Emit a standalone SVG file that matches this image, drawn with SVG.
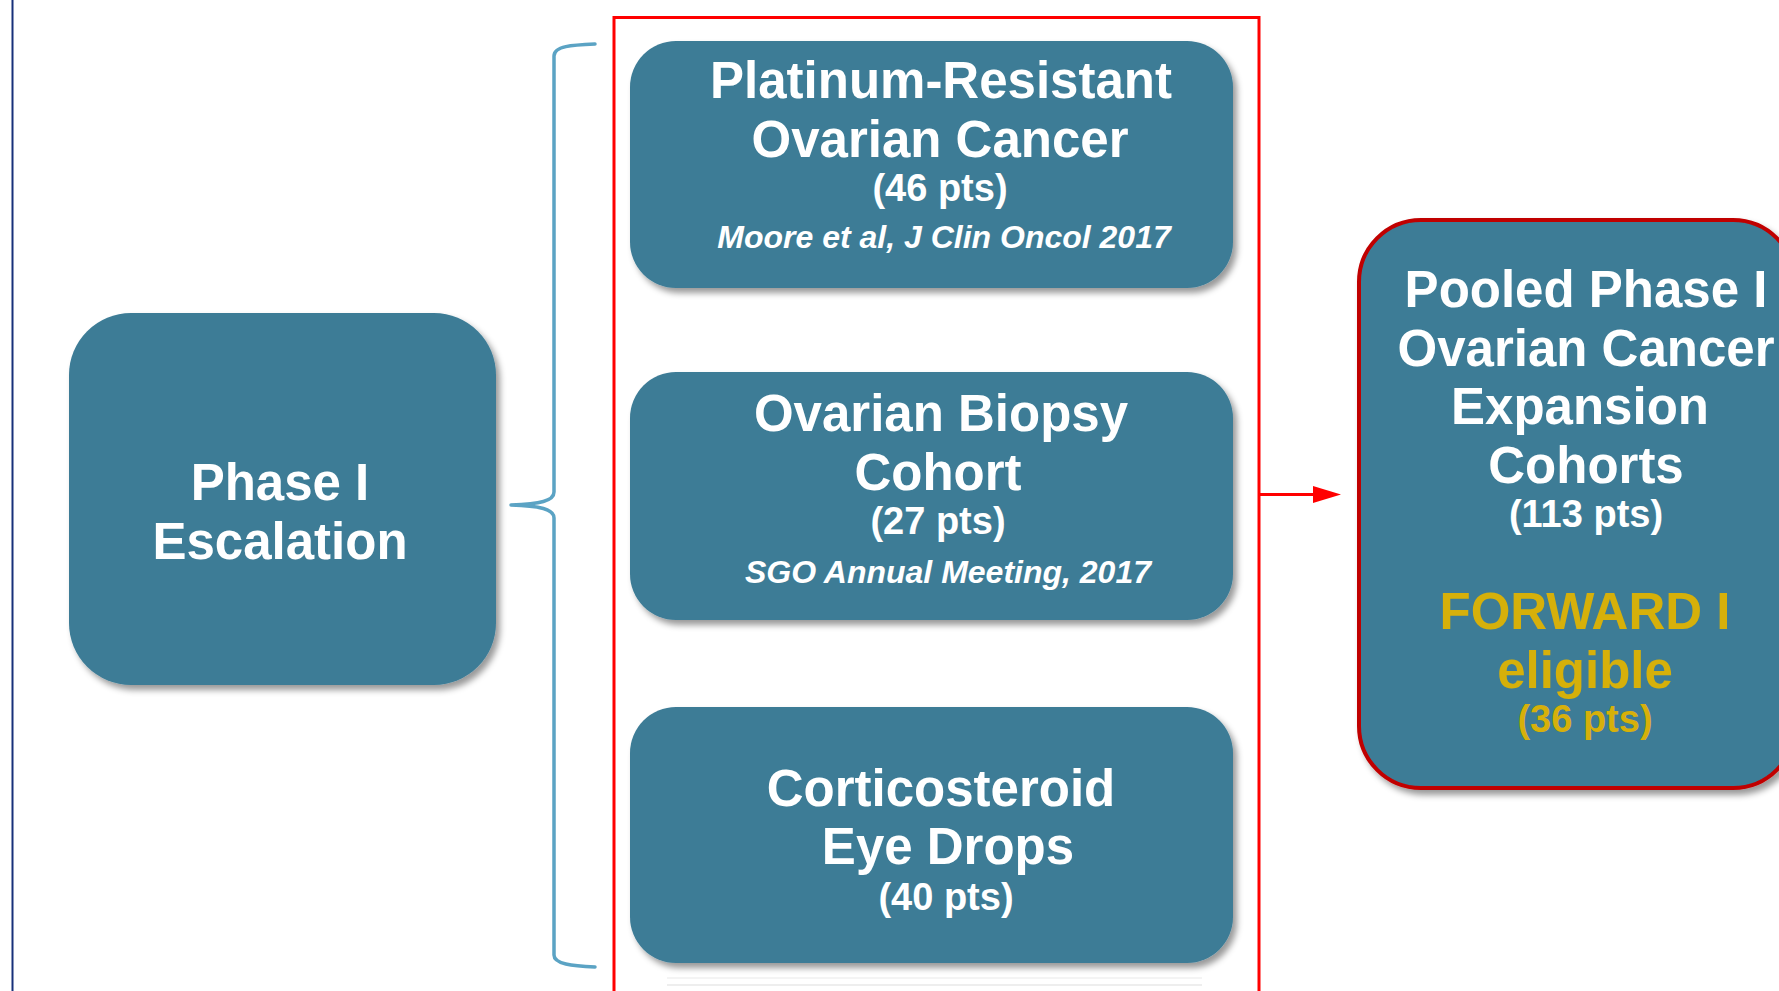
<svg xmlns="http://www.w3.org/2000/svg" width="1779" height="991" viewBox="0 0 1779 991">
  <defs>
    <style>
      .box { fill: #3d7c96; }
      .t { font-family: "Liberation Sans", Arial, sans-serif; font-weight: bold; fill: #ffffff; text-anchor: middle; }
      .big { font-size: 51px; }
      .pts { font-size: 38px; }
      .ref { font-size: 32px; font-style: italic; }
      .gold { fill: #d6b00a; }
      .frame { fill: none; stroke: #ff0000; stroke-width: 3; }
      .brace { fill: none; stroke: #5ba3c4; stroke-width: 3.5; stroke-linecap: round; stroke-linejoin: round; }
      .arrowline { fill: none; stroke: #ff0000; stroke-width: 3; }
    </style>
    <filter id="shadow" x="-10%" y="-10%" width="125%" height="125%">
      <feDropShadow dx="4" dy="5" stdDeviation="3" flood-color="#000000" flood-opacity="0.4"/>
    </filter>
  </defs>

  <rect x="0" y="0" width="1779" height="991" fill="#ffffff"/>
  <line x1="12.5" y1="0" x2="12.5" y2="991" stroke="#17307a" stroke-width="2"/>

  <g id="frame">
    <rect class="frame" x="614" y="17.5" width="645" height="1000"/>
  </g>

  <g id="node-phase1">
    <rect class="box" x="69" y="313" width="427" height="372" rx="62" ry="62" filter="url(#shadow)"/>
    <text class="t big" x="280" y="500">Phase I</text>
    <text class="t big" x="280" y="559">Escalation</text>
  </g>

  <g id="node-platinum">
    <rect class="box" x="630" y="41" width="603" height="247" rx="46" ry="46" filter="url(#shadow)"/>
    <text class="t big" x="941" y="98">Platinum-Resistant</text>
    <text class="t big" x="940" y="157">Ovarian Cancer</text>
    <text class="t pts" x="940" y="201">(46 pts)</text>
    <text class="t ref" x="944" y="248">Moore et al, J Clin Oncol 2017</text>
  </g>

  <g id="node-biopsy">
    <rect class="box" x="630" y="372" width="603" height="248" rx="46" ry="46" filter="url(#shadow)"/>
    <text class="t big" x="941" y="431">Ovarian Biopsy</text>
    <text class="t big" x="938" y="490">Cohort</text>
    <text class="t pts" x="938" y="534">(27 pts)</text>
    <text class="t ref" x="948" y="583">SGO Annual Meeting, 2017</text>
  </g>

  <g id="node-eyedrops">
    <rect class="box" x="630" y="707" width="603" height="256" rx="46" ry="46" filter="url(#shadow)"/>
    <text class="t big" x="941" y="806">Corticosteroid</text>
    <text class="t big" x="948" y="864">Eye Drops</text>
    <text class="t pts" x="946" y="910">(40 pts)</text>
  </g>

  <g id="faint">
    <line x1="667" y1="978" x2="1202" y2="978" stroke="#f0f0f0" stroke-width="1.5"/>
    <line x1="667" y1="985" x2="1202" y2="985" stroke="#e8e8e8" stroke-width="1.5"/>
  </g>

  <g id="node-pooled">
    <rect x="1359" y="220" width="436" height="568" rx="62" ry="62" fill="#3d7c96" stroke="#c00000" stroke-width="4" filter="url(#shadow)"/>
    <text class="t big" x="1586" y="307">Pooled Phase I</text>
    <text class="t big" x="1586" y="366">Ovarian Cancer</text>
    <text class="t big" x="1580" y="424">Expansion</text>
    <text class="t big" x="1586" y="483">Cohorts</text>
    <text class="t pts" x="1586" y="527">(113 pts)</text>
    <text class="t big gold" x="1585" y="629">FORWARD I</text>
    <text class="t big gold" x="1585" y="688">eligible</text>
    <text class="t pts gold" x="1585" y="732">(36 pts)</text>
  </g>

  <g id="connectors">
    <path class="brace" d="M595,44 C572,45 554,46 554,56 L554,492 C554,501 540,504 511,505 C540,506 554,509 554,518 L554,955 C554,964 572,966 595,967"/>
    <line class="arrowline" x1="1259" y1="494.5" x2="1316" y2="494.5"/>
    <polygon points="1313,486 1341,494.5 1313,503" fill="#ff0000"/>
  </g>
</svg>
